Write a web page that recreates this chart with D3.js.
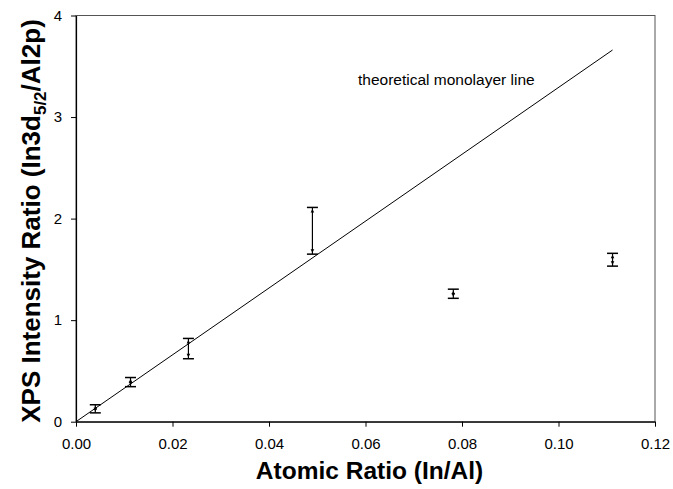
<!DOCTYPE html>
<html><head><meta charset="utf-8">
<script src="https://cdn.jsdelivr.net/npm/d3@7"></script>
<style>body{margin:0;background:#fff;} text{font-family:"Liberation Sans",Arial,sans-serif;}</style>
</head><body>
<svg id="c" width="673" height="489"></svg>
<script>
const xVals = [0.0040, 0.0113, 0.0233, 0.0490, 0.0782, 0.1112];
const yVals = [0.127, 0.39, 0.72, 1.88, 1.26, 1.595];
const yErr  = [0.04, 0.045, 0.10, 0.23, 0.045, 0.063];
const lineX = [0, 0.1112];
const lineY = [0, 3.66];
const xTicks = [0, 0.02, 0.04, 0.06, 0.08, 0.10, 0.12];
const yTicks = [0, 1, 2, 3, 4];

const svg = d3.select("#c");
const L = 76, R = 655, T = 15.5, B = 421.7;
const x = d3.scaleLinear().domain([0, 0.12]).range([L, R]);
const y = d3.scaleLinear().domain([0, 4]).range([B, T]);

// frame (top/right)
svg.append("rect").attr("x", L).attr("y", T).attr("width", R - L).attr("height", B - T)
  .attr("fill", "none").attr("stroke", "#555").attr("stroke-width", 1);

const xAxis = svg.append("g").attr("transform", `translate(0,${B})`)
  .call(d3.axisBottom(x).tickValues(xTicks).tickFormat(d3.format(".2f")).tickSizeInner(5).tickSizeOuter(0));
const yAxis = svg.append("g").attr("transform", `translate(${L},0)`)
  .call(d3.axisLeft(y).tickValues(yTicks).tickFormat(d3.format("d")).tickSizeInner(5).tickSizeOuter(0));
[xAxis, yAxis].forEach(g => {
  g.selectAll("path").attr("stroke", "#000").attr("stroke-width", 1.2);
  g.selectAll("line").attr("stroke", "#000");
  g.selectAll("text").attr("font-size", 15).attr("fill", "#000")
   .attr("font-family", "'Liberation Sans',Arial,sans-serif");
});
xAxis.selectAll("text").attr("y", 27).attr("dy", 0);
yAxis.selectAll("text").attr("dx", "-6");

// theoretical line
svg.append("line")
  .attr("x1", x(lineX[0])).attr("y1", y(lineY[0]))
  .attr("x2", x(lineX[1])).attr("y2", y(lineY[1]))
  .attr("stroke", "#000").attr("stroke-width", 1);

svg.append("text").attr("x", 358).attr("y", 85).attr("font-size", 15.5).text("theoretical monolayer line");

// error bars
const data = xVals.map((v, i) => ({x: v, y: yVals[i], e: yErr[i]}));
const g = svg.append("g");
data.forEach(d => {
  const cx = x(d.x), y1 = y(d.y + d.e), y2 = y(d.y - d.e);
  g.append("line").attr("x1", cx).attr("x2", cx).attr("y1", y1).attr("y2", y2).attr("stroke", "#000").attr("stroke-width", 1.2);
  [y1, y2].forEach(yy => g.append("line").attr("x1", cx - 5.5).attr("x2", cx + 5.5).attr("y1", yy).attr("y2", yy)
     .attr("stroke", "#000").attr("stroke-width", 1.5));
  g.append("path").attr("d", `M${cx-1.8},${y1+5}L${cx},${y1+1.5}L${cx+1.8},${y1+5}Z`).attr("fill", "#000");
  g.append("path").attr("d", `M${cx-1.8},${y2-5}L${cx},${y2-1.5}L${cx+1.8},${y2-5}Z`).attr("fill", "#000");
});

// axis titles
svg.append("text").attr("x", (L + R) / 2 + 4).attr("y", 479).attr("text-anchor", "middle")
  .attr("font-size", 24.5).attr("font-weight", "bold").text("Atomic Ratio (In/Al)");
const yt = svg.append("text").attr("transform", `translate(40,221) rotate(-90)`)
  .attr("text-anchor", "middle").attr("font-size", 26).attr("font-weight", "bold");
yt.append("tspan").text("XPS Intensity Ratio (In3d");
yt.append("tspan").attr("font-size", 17).attr("dy", 6).text("5/2");
yt.append("tspan").attr("dy", -6).text("/Al2p)");
</script>
</body></html>
